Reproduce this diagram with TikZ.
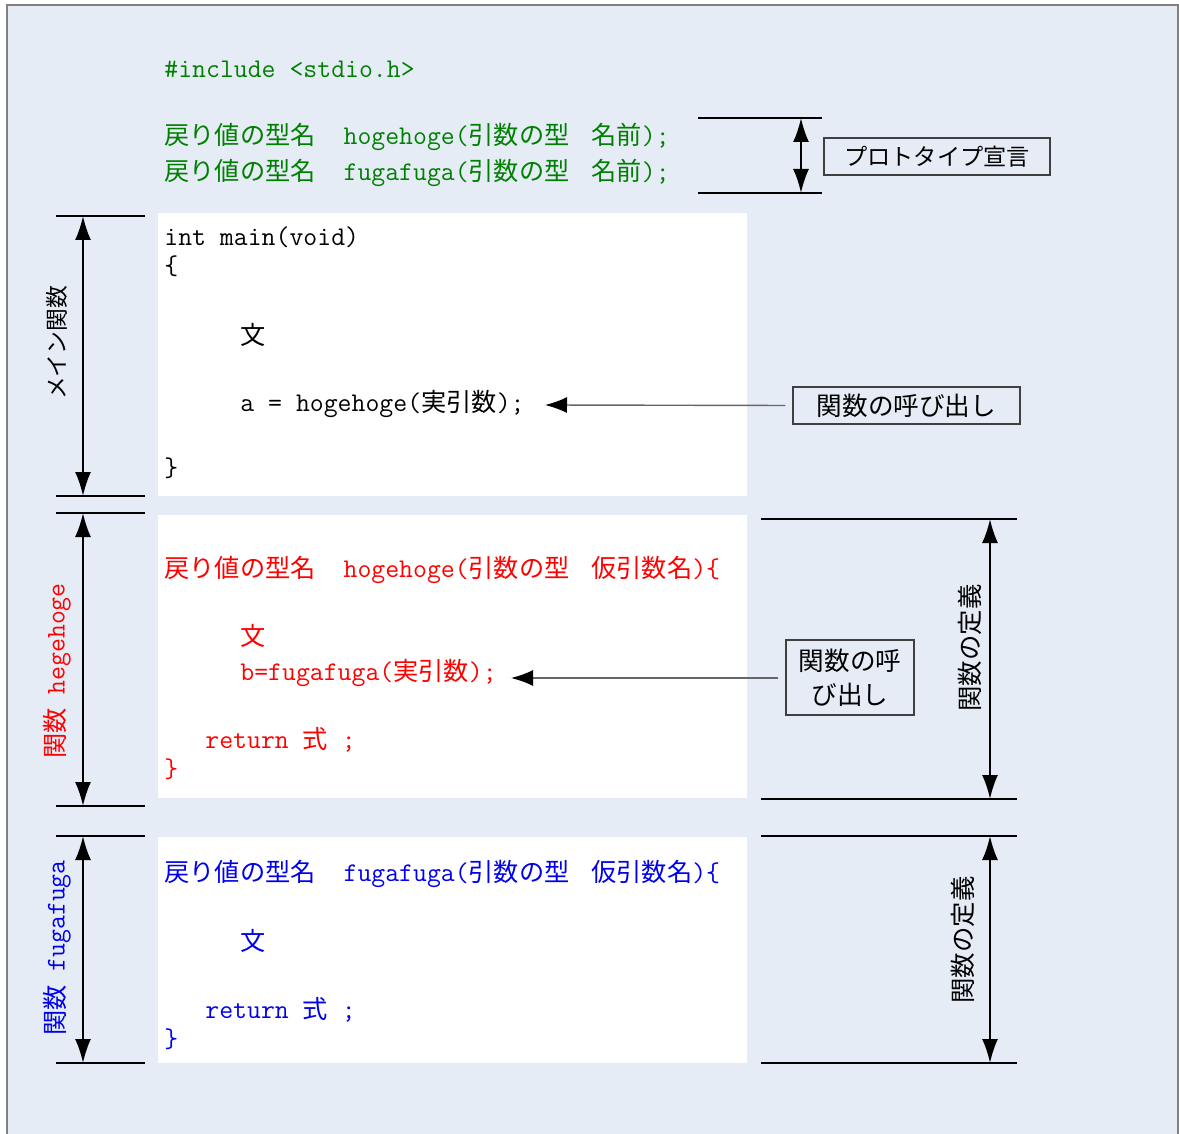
\documentclass[tikz,border=0pt]{standalone}
\usepackage{fontspec}
\newfontfamily\jp{Noto Sans CJK JP}
\usetikzlibrary{arrows.meta}
\definecolor{bg}{RGB}{229,236,246}
\definecolor{cgreen}{RGB}{0,128,0}
\definecolor{cblue}{RGB}{0,0,235}
\newcommand{\J}[1]{{\jp\fontsize{12.6}{15}\selectfont #1}}
\begin{document}
\begin{tikzpicture}[x=0.5pt,y=-0.5pt,
  code/.style={inner sep=0pt, anchor=base west, font=\fontsize{13.5}{16}\ttfamily},
  rlbl/.style={inner sep=0pt, rotate=90},
  tag/.style={draw=black!75, line width=0.6pt, inner sep=0pt, align=center},
  tick/.style={line width=1pt},
  dimarrow/.style={line width=1pt, {Latex[length=12pt,width=8pt]}-{Latex[length=12pt,width=8pt]}},
  callout/.style={line width=0.7pt, draw=black!60, shorten <=3.5pt, -{Latex[length=11pt,width=8pt,black]}},
  wbox/.style={fill=white, draw=none}
]
\useasboundingbox (0,0) rectangle (1179,1134);
\fill[bg] (7,5) rectangle (1178,1134);
\draw[black!50, line width=1pt] (7,1134) -- (7,5) -- (1178,5) -- (1178,1134);

% white code boxes
\fill[wbox] (158,213) rectangle (747,496);
\fill[wbox] (158,515) rectangle (747,798);
\fill[wbox] (158,837) rectangle (747,1063);

% header (green)
\node[code,text=cgreen] (inc) at (164,78) {\#include <stdio.h>};
\node[code,text=cgreen] (p1) at (164,145) {\J{戻り値の型名}\hspace{14pt}hogehoge(\J{引数の型}\hspace{11pt}\J{名前});};
\node[code,text=cgreen] (p2) at (164,181) {\J{戻り値の型名}\hspace{14pt}fugafuga(\J{引数の型}\hspace{11pt}\J{名前});};

% main
\node[code] (m1) at (164,246) {int main(void)};
\node[code] (m2) at (164,275) {\{};
\node[code] (m3) at (240,345) {\J{文}};
\node[code] (m4) at (240,412) {a = hogehoge(\J{実引数});};
\node[code] (m5) at (164,476) {\}};

% hogehoge
\node[code,text=red] (h1) at (164,577) {\J{戻り値の型名}\hspace{14pt}hogehoge(\J{引数の型}\hspace{11pt}\J{仮引数名})\{};
\node[code,text=red] (h2) at (240,645) {\J{文}};
\node[code,text=red] (h3) at (240,680) {b=fugafuga(\J{実引数});};
\node[code,text=red] (h4) at (205,748) {return \J{式} ;};
\node[code,text=red] (h5) at (164,777) {\}};

% fugafuga
\node[code,text=cblue] (f1) at (164,881) {\J{戻り値の型名}\hspace{14pt}fugafuga(\J{引数の型}\hspace{11pt}\J{仮引数名})\{};
\node[code,text=cblue] (f2) at (240,950) {\J{文}};
\node[code,text=cblue] (f3) at (205,1018) {return \J{式} ;};
\node[code,text=cblue] (f4) at (164,1047) {\}};

% prototype bracket
\coordinate (pt) at (801,118); \coordinate (pb) at (801,193);
\draw[tick] (698,118) -- (822,118);
\draw[tick] (698,193) -- (822,193);
\draw[dimarrow] (pt) -- (pb);
\node[tag, minimum width=113pt, minimum height=18.5pt, font=\jp\fontsize{11.6}{14}\selectfont] (proto) at (937,156.5) {プロトタイプ宣言};

% left brackets
\coordinate (mt) at (83,216); \coordinate (mb) at (83,496);
\draw[tick] (56,216) -- (145,216);
\draw[tick] (56,496) -- (145,496);
\draw[dimarrow] (mt) -- (mb);
\node[rlbl, font=\jp\fontsize{11.4}{14}\selectfont] (lmain) at (57,343) {メイン関数};

\coordinate (ht) at (83,513); \coordinate (hb) at (83,806);
\draw[tick] (56,513) -- (145,513);
\draw[tick] (56,806) -- (145,806);
\draw[dimarrow] (ht) -- (hb);
\node[rlbl, text=red, font=\fontsize{13.5}{16}\ttfamily] (lhoge) at (57,671) {\J{関数} hegehoge};

\coordinate (ft) at (83,836); \coordinate (fb) at (83,1063);
\draw[tick] (56,836) -- (145,836);
\draw[tick] (56,1063) -- (145,1063);
\draw[dimarrow] (ft) -- (fb);
\node[rlbl, text=cblue, font=\fontsize{13.5}{16}\ttfamily] (lfuga) at (57,948) {\J{関数} fugafuga};

% right brackets
\coordinate (dt1) at (990,519); \coordinate (db1) at (990,799);
\draw[tick] (761,519) -- (1017,519);
\draw[tick] (761,799) -- (1017,799);
\draw[dimarrow] (dt1) -- (db1);
\node[rlbl, font=\jp\fontsize{12.7}{15}\selectfont] (def1) at (970,648) {関数の定義};

\coordinate (dt2) at (990,836); \coordinate (db2) at (990,1063);
\draw[tick] (761,836) -- (1017,836);
\draw[tick] (761,1063) -- (1017,1063);
\draw[dimarrow] (dt2) -- (db2);
\node[rlbl, font=\jp\fontsize{12.7}{15}\selectfont] (def2) at (963,940) {関数の定義};

% call-outs
\node[tag, minimum width=113.5pt, minimum height=18.5pt, font=\jp\fontsize{12.8}{15}\selectfont] (call1) at (906.5,405.5) {関数の呼び出し};
\coordinate (c1t) at (545,405);
\draw[callout] (call1.west) -- (c1t);

\node[tag, minimum width=64pt, minimum height=37.5pt, font=\jp\fontsize{12.8}{17}\selectfont] (call2) at (850,677.5) {関数の呼\\び出し};
\coordinate (c2t) at (511,678);
\draw[callout] (call2.west |- c2t) -- (c2t);
\end{tikzpicture}
\end{document}
